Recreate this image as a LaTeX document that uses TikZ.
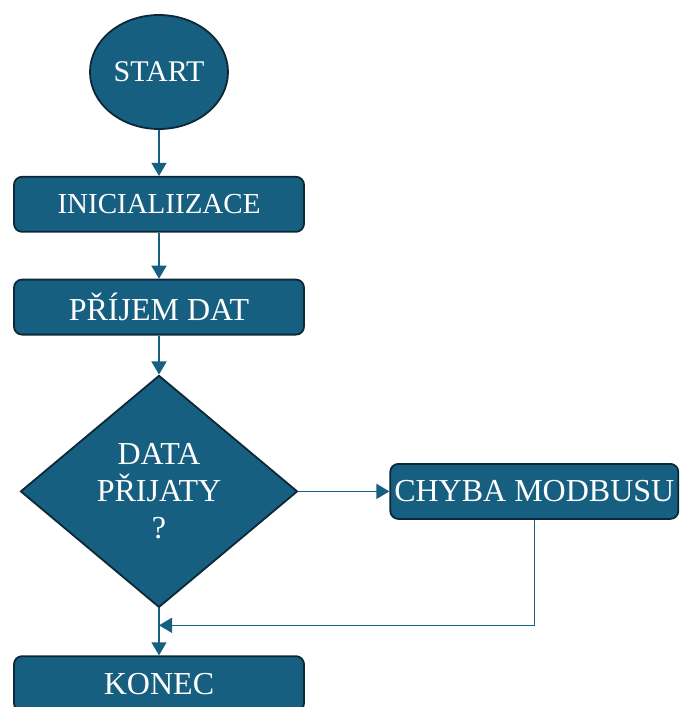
\documentclass[tikz,border=0pt]{standalone}
\usepackage{fontspec}
\setmainfont{Liberation Serif}
\usetikzlibrary{arrows.meta,positioning,shapes.geometric}
\definecolor{flowfill}{RGB}{22,95,129}
\definecolor{flowline}{RGB}{12,40,54}

\begin{document}
\begin{tikzpicture}[
    node distance=46pt and 91pt,
    every node/.style={font=\fontsize{32}{37}\selectfont,text=white},
    box/.style={draw=flowline,fill=flowfill,line width=1.8pt,rounded corners=8pt,align=center,inner sep=2pt,minimum width=290pt,minimum height=55pt},
    terminal/.style={ellipse,draw=flowline,fill=flowfill,line width=1.8pt,inner sep=0pt,minimum width=138pt,minimum height=114pt},
    decision/.style={diamond,draw=flowline,fill=flowfill,line width=1.8pt,align=center,inner sep=0pt,minimum width=277pt,minimum height=232pt},
    arrow/.style={-{Triangle[width=15pt,length=13pt]},draw=flowfill,line width=1.4pt}
]

\useasboundingbox (0,0) rectangle (681pt,-707pt);

\node[terminal,font=\fontsize{30}{36}\selectfont] (start) at (159pt,-72pt) {START};
\node[box,below=of start,font=\fontsize{29}{36}\selectfont] (init) {INICIALIIZACE};
\node[box,below=of init] (receive) {PŘÍJEM DAT};
\node[decision,below=39pt of receive] (check) {DATA\\PŘIJATY\\?};
\node[box,right=of check,minimum width=288pt] (error) {CHYBA MODBUSU};
\node[box,below=47pt of check,anchor=north] (finish) {KONEC};

\coordinate (merge) at ([yshift=-17pt]check.south);

\draw[arrow] (start) -- (init);
\draw[arrow] (init) -- (receive);
\draw[arrow] (receive) -- (check);
\draw[arrow] (check) -- (error);
\draw[arrow] (check) -- (finish);
\draw[arrow] (error.south) |- (merge);

\end{tikzpicture}
\end{document}
